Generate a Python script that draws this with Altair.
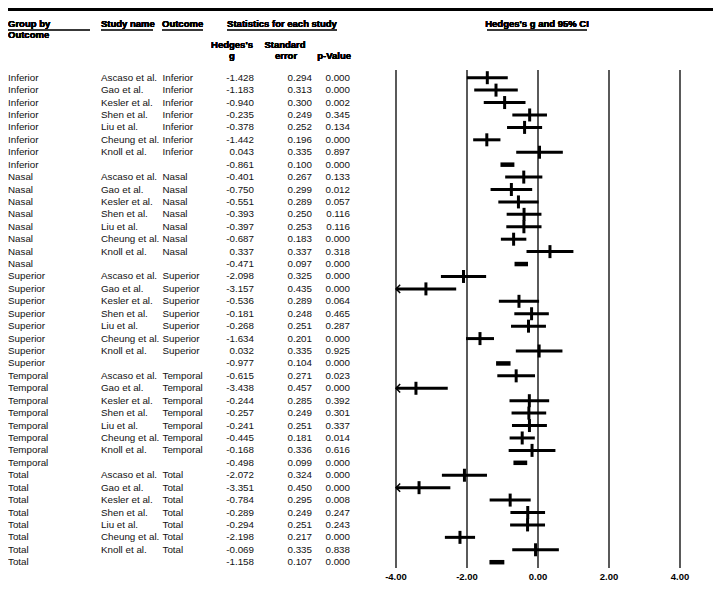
import altair as alt
import pandas as pd

outcomes = ["Inferior", "Nasal", "Superior", "Temporal", "Total"]
studies = ["Ascaso et al.", "Gao et al.", "Kesler et al.", "Shen et al.",
           "Liu et al.", "Cheung et al.", "Knoll et al."]

# 7 studies + pooled row per outcome
g_values = {
    "Inferior": [-1.428, -1.183, -0.940, -0.235, -0.378, -1.442, 0.043, -0.861],
    "Nasal":    [-0.401, -0.750, -0.551, -0.393, -0.397, -0.687, 0.337, -0.471],
    "Superior": [-2.098, -3.157, -0.536, -0.181, -0.268, -1.634, 0.032, -0.977],
    "Temporal": [-0.615, -3.438, -0.244, -0.257, -0.241, -0.445, -0.168, -0.498],
    "Total":    [-2.072, -3.351, -0.784, -0.289, -0.294, -2.198, -0.069, -1.158],
}
se_values = {
    "Inferior": [0.294, 0.313, 0.300, 0.249, 0.252, 0.196, 0.335, 0.100],
    "Nasal":    [0.267, 0.299, 0.289, 0.250, 0.253, 0.183, 0.337, 0.097],
    "Superior": [0.325, 0.435, 0.289, 0.248, 0.251, 0.201, 0.335, 0.104],
    "Temporal": [0.271, 0.457, 0.285, 0.249, 0.251, 0.181, 0.336, 0.099],
    "Total":    [0.324, 0.450, 0.295, 0.249, 0.251, 0.217, 0.335, 0.107],
}
p_values = {
    "Inferior": [0.000, 0.000, 0.002, 0.345, 0.134, 0.000, 0.897, 0.000],
    "Nasal":    [0.133, 0.012, 0.057, 0.116, 0.116, 0.000, 0.318, 0.000],
    "Superior": [0.000, 0.000, 0.064, 0.465, 0.287, 0.000, 0.925, 0.000],
    "Temporal": [0.023, 0.000, 0.392, 0.301, 0.337, 0.014, 0.616, 0.000],
    "Total":    [0.000, 0.000, 0.008, 0.247, 0.243, 0.000, 0.838, 0.000],
}
axis_ticks = [-4, -2, 0, 2, 4]

X_MIN = -4
recs = []
for i, oc in enumerate(outcomes):
    for j in range(8):
        g = g_values[oc][j]
        se = se_values[oc][j]
        p = p_values[oc][j]
        lo_raw = g - 1.96 * se
        hi = g + 1.96 * se
        recs.append({
            "row": i * 8 + j,
            "group": oc,
            "study": studies[j] if j < 7 else "",
            "outcome": oc if j < 7 else "",
            "g": g, "se": se, "p": p,
            "g_txt": f"{g:.3f}", "se_txt": f"{se:.3f}", "p_txt": f"{p:.3f}",
            "lo": max(lo_raw, X_MIN), "hi": hi,
            "clipped": lo_raw < X_MIN,
            "kind": "study" if j < 7 else "summary",
        })
df = pd.DataFrame(recs)
df_study = df[df.kind == "study"]
df_sum = df[df.kind == "summary"]
df_clip = df[df.clipped]
df_ticks = pd.DataFrame({"tick": axis_ticks,
                         "label": [f"{t:.2f}" for t in axis_ticks]})

xs = alt.Scale(domain=[-4, 4], range=[388, 672], nice=False, zero=False)
ys = alt.Scale(domain=[0, 39], range=[69.7, 554.2], nice=False, zero=False)
Y = alt.Y("row:Q", scale=ys, axis=None)

FONT = "Liberation Sans"
base = alt.Chart(df)

def col_text(field, x, align):
    return base.mark_text(align=align, baseline="middle", font=FONT,
                          fontSize=9.8, color="#111").encode(
        x=alt.value(x), y=Y, text=alt.Text(field))

def header(txt, x, y, align="left"):
    return alt.Chart(df_ticks).mark_text(
        align=align, baseline="middle", font=FONT, fontSize=9.5,
        fontWeight="bold", color="#000"
    ).encode(x=alt.value(x), y=alt.value(y), text=alt.value(txt))

def hline(x1, x2, y, w=1, color="#333"):
    return alt.Chart(df_ticks).mark_rule(strokeWidth=w, color=color).encode(
        x=alt.value(x1), x2=alt.value(x2), y=alt.value(y))

layers = [
    hline(0, 705, 1.5, w=3, color="#000"),
    header("Group by", 0, 16), header("Outcome", 0, 27),
    hline(0, 82, 22),
    header("Study name", 93, 16), hline(93, 145, 22),
    header("Outcome", 154, 16), hline(154, 195, 22),
    header("Statistics for each study", 274, 16, "center"), hline(219, 329, 22),
    header("Hedges's", 224, 37, "center"), header("g", 224, 48, "center"),
    header("Standard", 277, 37, "center"), header("error", 278, 48, "center"),
    header("p-Value", 343, 48, "right"),
    header("Hedges's g and 95% CI", 529, 16, "center"), hline(479, 579, 22),
    col_text("group:N", 0, "left"),
    col_text("study:N", 93, "left"),
    col_text("outcome:N", 154.5, "left"),
    col_text("g_txt:N", 246, "right"),
    col_text("se_txt:N", 304, "right"),
    col_text("p_txt:N", 342, "right"),
    # vertical reference lines
    alt.Chart(df_ticks).mark_rule(color="#000", strokeWidth=1.3).encode(
        x=alt.X("tick:Q", scale=xs, axis=None),
        y=alt.value(62), y2=alt.value(560)),
    alt.Chart(df_ticks).mark_text(font=FONT, fontSize=9.5, fontWeight="bold",
                                  baseline="middle", color="#000").encode(
        x=alt.X("tick:Q", scale=xs, axis=None), y=alt.value(569),
        text=alt.Text("label:N")),
    # study CIs
    alt.Chart(df_study).mark_rule(color="#000", strokeWidth=3).encode(
        x=alt.X("lo:Q", scale=xs, axis=None), x2="hi:Q", y=Y),
    alt.Chart(df_study).mark_tick(color="#000", orient="vertical", size=13,
                                  thickness=3, opacity=1).encode(
        x=alt.X("g:Q", scale=xs, axis=None), y=Y),
    # pooled rows
    alt.Chart(df_sum).mark_rule(color="#000", strokeWidth=4.5).encode(
        x=alt.X("lo:Q", scale=xs, axis=None), x2="hi:Q", y=Y),
    # arrows for truncated CIs
    alt.Chart(df_clip).mark_point(shape="M1,-1L0,0L1,1", filled=False,
                                  color="#000", strokeWidth=1.5, size=70,
                                  opacity=1).encode(
        x=alt.X("lo:Q", scale=xs, axis=None), y=Y),
]

chart = alt.layer(*layers).properties(
    width=705, height=575,
    autosize=alt.AutoSizeParams(type="none"),
    padding=0,
).configure_view(stroke=None)

chart.save("out.html", embed_options={"renderer": "svg", "actions": False})
